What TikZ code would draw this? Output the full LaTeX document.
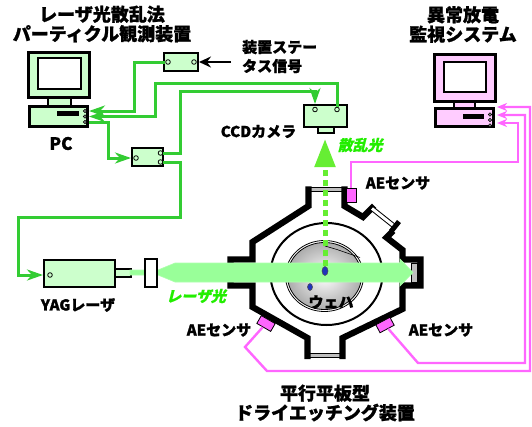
\documentclass[tikz,border=0pt]{standalone}
\usepackage{fontspec}
\setmainfont{Noto Sans CJK JP}[BoldFeatures={FakeBold=1.2}]
\newfontfamily\slantjp{Noto Sans CJK JP}[FakeSlant=0.25,BoldFeatures={FakeBold=0.8}]
\usetikzlibrary{arrows.meta,shapes.geometric}
\definecolor{pcgreen}{HTML}{CCFFCC}
\definecolor{pcpink}{HTML}{FFCCFF}
\definecolor{wiregreen}{HTML}{33CC33}
\definecolor{wirepink}{HTML}{FF66FF}
\definecolor{beamgreen}{HTML}{99FF99}
\definecolor{scatgreen}{HTML}{66EE33}
\definecolor{textgreen}{HTML}{22EE00}
\definecolor{wafblue}{HTML}{2233BB}
\begin{document}
\begin{tikzpicture}[x=1pt,y=-1pt,
  title/.style={font=\bfseries\fontsize{18}{19.5}\selectfont,align=center,inner sep=0pt},
  lbl/.style={font=\bfseries\fontsize{15}{19}\selectfont,inner sep=0pt},
  glbl/.style={font=\slantjp\bfseries\fontsize{15}{17}\selectfont,text=textgreen,inner sep=0pt},
  unit/.style={draw,line width=2.4pt,fill=pcgreen,inner sep=0pt},
  port/.style={circle,draw,fill=pcgreen,line width=0.8pt,minimum size=4.6pt,inner sep=0pt},
  dot/.style={circle,draw,fill=gray,line width=0.6pt,minimum size=3.4pt,inner sep=0pt},
  gwire/.style={wiregreen,line width=3pt,-{Stealth[length=16pt,width=11pt,inset=5pt]}},
  pwire/.style={wirepink,line width=2.4pt,-{Stealth[length=10pt,width=8pt,inset=3pt]}},
  wall/.style={line width=6.2pt,line cap=rect},
  window/.style={line width=0.9pt,double=lightgray,double distance=2.4pt},
  sensor/.style={draw,fill=wirepink,line width=0.8pt,minimum width=16pt,minimum height=9pt,inner sep=0pt},
  wdot/.style={ellipse,draw=black!70,fill=wafblue,line width=0.5pt,inner sep=0pt}]
\useasboundingbox[fill=white] (0,0) rectangle (532,426);

\node[title] (ttlL) at (102,24) {レーザ光散乱法\\パーティクル観測装置};
\node[title] (ttlR) at (463,24.5) {異常放電\\監視システム};
\node[lbl,align=left,anchor=west] (sig) at (242,56.5) {装置ステー\\タス信号};

\draw[line width=1.5pt,fill=pcgreen] (48,97) rectangle (71,107);
\draw[line width=3pt,fill=pcgreen] (28.5,52.5) rectangle (89.5,97.5);
\draw[line width=2.5pt,fill=white] (38.2,58.2) rectangle (80.8,88.8);
\node[unit,line width=3pt,minimum width=58pt,minimum height=20pt] (pcL) at (58.5,116.5) {};
\fill (57,111) rectangle (79,116);
\node[dot] (dL1) at (85,111) {};
\node[dot] (dL2) at (85,116.5) {};
\node[dot] (dL3) at (85,122) {};
\node[lbl,font=\bfseries\fontsize{17}{17}\selectfont] (pcname) at (61,143.5) {PC};

\draw[line width=1.5pt,fill=pcpink] (454,101) rectangle (475,108);
\draw[line width=3pt,fill=pcpink] (434.5,54.5) rectangle (495.5,101.5);
\draw[line width=2.5pt,fill=white] (444.2,62.2) rectangle (485.8,91.8);
\node[unit,fill=pcpink,line width=3pt,minimum width=58pt,minimum height=18pt] (pcR) at (464.5,117.5) {};
\fill (463,114) rectangle (484,119);
\node[dot] (dR1) at (490,114.5) {};
\node[dot] (dR2) at (490,120) {};
\node[dot] (dR3) at (490,125.5) {};
\coordinate (pr1) at (497,107);
\coordinate (pr2) at (497,115);
\coordinate (pr3) at (497,123);

\node[unit,minimum width=33.6pt,minimum height=17.6pt] (stbox) at (181,62) {};
\node[port] (st1) at (168,62) {};
\node[port] (st2) at (194,62) {};
\draw[line width=2pt,shorten <=11pt,-{Stealth[length=12pt,width=11pt,inset=4pt]}] (sig.west |- stbox.east) -- (stbox.east);

\node[unit,minimum width=30.6pt,minimum height=17.6pt] (ctrl) at (147.5,157) {};
\node[port] (c1) at (136,158) {};
\node[port] (c2) at (160.5,153) {};
\node[port] (c3) at (160.5,162) {};

\draw[line width=2pt,fill=pcgreen] (318,126) rectangle (334,132.5);
\node[unit,minimum width=42.6pt,minimum height=21.6pt] (ccd) at (325.5,116) {};
\node[port] (k1) at (315,109.5) {};
\node[port] (k2) at (337,109.5) {};
\node[lbl] (ccdname) at (258.5,131.5) {CCDカメラ};

\draw[line width=2.4pt,fill=pcgreen] (115,269.2) rectangle (130.8,276.8);
\node[unit,minimum width=70.6pt,minimum height=26.6pt] (yag) at (79.5,273.5) {};
\node[port] (y1) at (50,275) {};
\node[lbl] (yagname) at (78,305) {YAGレーザ};

\draw[window] (308.5,189.5) -- (344.5,189.5);
\draw[window] (307.5,355.5) -- (342.5,355.5);
\draw[wall] (308.5,189.5) -- (308.5,206) -- (252.5,242) -- (252.5,259.5) -- (230.5,259.5) -- (230.5,285.5) -- (252.5,285.5) -- (252.5,307) -- (307.5,338) -- (307.5,356);
\draw[wall] (342.5,356) -- (342.5,338) -- (402.5,309) -- (402.5,285.5) -- (420.5,285.5) -- (420.5,259.5) -- (402.5,259.5) -- (402.5,250) -- (386.5,237.5) -- (391,233);
\draw[wall] (372,208) -- (363,217) -- (344.5,206) -- (344.5,189.5);
\draw[line width=1pt,double=white,double distance=3pt] (372,208.5) -- (394,226);
\draw[line width=5pt] (391,231.5) -- (399,221.5);
\draw[line width=0.8pt,fill=lightgray] (411,263) rectangle (417,282);

\draw[line width=2pt] (326.5,274) ellipse [x radius=56pt,y radius=51pt];
\draw[line width=0.8pt] (324.5,276) ellipse [x radius=39pt,y radius=35.5pt];
\shade[inner color=white,outer color=gray!65,draw=black,line width=0.8pt] (324.5,276) ellipse [x radius=37pt,y radius=33.5pt];
\draw[line width=0.6pt] (325,246) -- (337,249.5) -- (360,257.5);
\node[font=\bfseries\fontsize{15}{15}\selectfont,inner sep=0pt] (wafer) at (331,302) {ウェハ};

\node[sensor,minimum width=10pt,minimum height=14pt] (aeT) at (351,195) {};
\node[sensor,rotate=-30] (aeL) at (266,323.5) {};
\node[sensor,rotate=28] (aeR) at (385,325) {};
\node[lbl] (aeTname) at (398,183) {AEセンサ};
\node[lbl] (aeLname) at (219,330) {AEセンサ};
\node[lbl] (aeRname) at (441,330) {AEセンサ};

\filldraw[fill=beamgreen,draw=beamgreen!80!white,line width=0.6pt] (130,270) -- (158,270) -- (175,263) -- (400,263) -- (400,259) -- (413,272.5) -- (400,286) -- (400,282) -- (175,282) -- (158,275) -- (130,275) -- cycle;
\draw[line width=2.4pt,fill=white] (145.2,259.2) rectangle (156.8,286.8);
\node[glbl] (beamname) at (196,296) {レーザ光};

\node[wdot,minimum width=6pt,minimum height=9pt] (wd1) at (325,271) {};
\node[wdot,minimum width=5pt,minimum height=7pt] (wd2) at (310,287) {};
\coordinate (sctip) at (325,139);
\draw[scatgreen,line width=5pt,dash pattern=on 6pt off 4pt,-{Triangle[length=28pt,width=20pt]}] (wd1) -- (sctip);
\node[glbl] (scatname) at (360,145) {散乱光};

\draw[gwire] (st1) -| (134,111) -- (pcL.east |- dL1);
\draw[gwire] (k2) |- (155,83) |- (pcL.east |- dL2);
\draw[gwire] (pcL.east |- dL3) -| (108,158) -- (ctrl.west |- c1);
\draw[gwire] (c2) -| (180,91) -| (ccd.north -| k1);
\draw[gwire] (c3) -| (180,217) -| (18,275) -- (yag.west |- y1);

\draw[pwire] (aeT.north) |- (518,162) |- (pr3);
\draw[pwire] (aeR) -- (418,363) -| (525,115) -- (pr2);
\draw[pwire] (aeL) -- (245,347) -- (267,371) -| (530,107) -- (pr1);

\node[title] (chname) at (325,403) {平行平板型\\ドライエッチング装置};
\end{tikzpicture}
\end{document}
